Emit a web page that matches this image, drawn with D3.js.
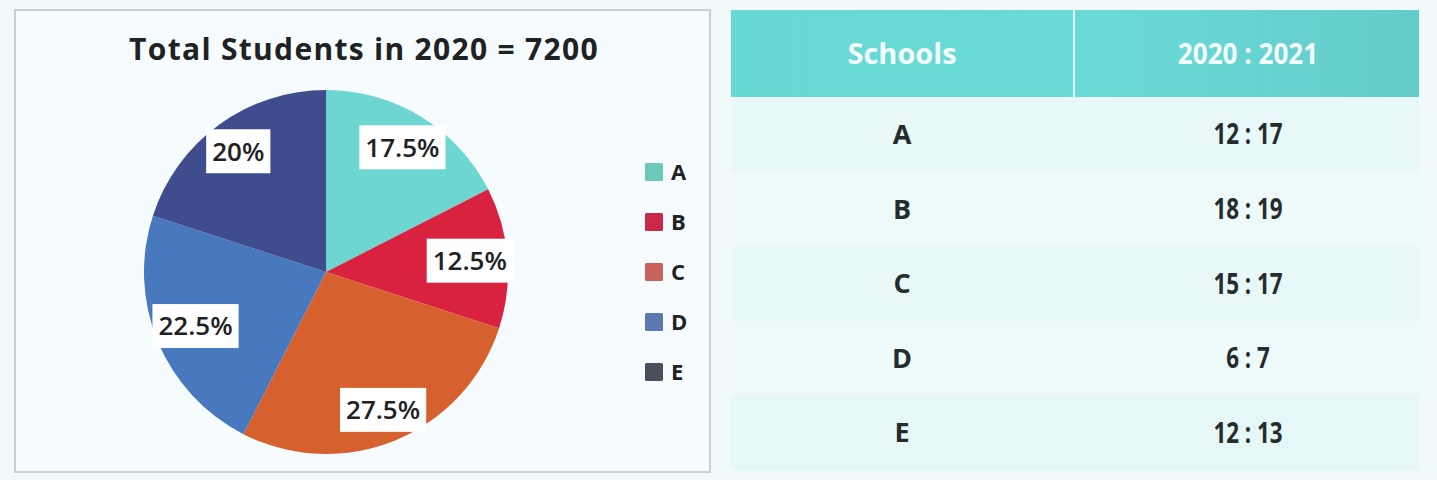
<!DOCTYPE html>
<html>
<head>
<meta charset="utf-8">
<script src="https://cdn.jsdelivr.net/npm/d3@7"></script>
<style>
  html, body { margin: 0; padding: 0; background: #f0fafa; }
  svg { display: block; }
  text { font-family: "Open Sans", "Noto Sans", sans-serif; }
</style>
</head>
<body>
<svg id="chart" width="1437" height="480"></svg>
<script>
// ---- data ----
const title = "Total Students in 2020 = 7200";
const schools = ["A", "B", "C", "D", "E"];
const shares2020 = [17.5, 12.5, 27.5, 22.5, 20];
const ratioHeader = ["Schools", "2020 : 2021"];
const ratios = ["12 : 17", "18 : 19", "15 : 17", "6 : 7", "12 : 13"];

// ---- styles ----
const sliceColors = ["#6dd6d0", "#d8223f", "#d6602e", "#4879be", "#3f4c8e"];
const legendColors = ["#6cc9b8", "#c9294b", "#c8625a", "#5b79ad", "#4a4f5c"];

const svg = d3.select("#chart");

// ---- left panel frame ----
svg.append("rect")
  .attr("x", 15).attr("y", 10).attr("width", 695).attr("height", 462)
  .attr("fill", "#f6fcfd").attr("stroke", "#c9d1d2").attr("stroke-width", 2);

svg.append("text")
  .attr("x", 364).attr("y", 60)
  .attr("text-anchor", "middle")
  .attr("font-size", 30).attr("font-weight", 700)
  .attr("letter-spacing", 1.3)
  .attr("fill", "#1e2224")
  .text(title);

// ---- pie ----
const cx = 326, cy = 272, R = 182;
const pie = d3.pie().sort(null).value(d => d.v).startAngle(0).endAngle(2 * Math.PI);
const arcs = pie(schools.map((s, i) => ({ s, v: shares2020[i], i })));
const arc = d3.arc().innerRadius(0).outerRadius(R);

const g = svg.append("g").attr("transform", `translate(${cx},${cy})`);
g.selectAll("path.slice").data(arcs).join("path")
  .attr("class", "slice")
  .attr("d", arc)
  .attr("fill", d => sliceColors[d.data.i]);

// labels with white boxes, best-fit inside circle
const lbl = g.selectAll("g.lbl").data(arcs).join("g").attr("class", "lbl");
lbl.append("rect").attr("fill", "#ffffff");
lbl.append("text")
  .attr("text-anchor", "middle")
  .attr("dy", "0.36em")
  .attr("font-size", 26).attr("font-weight", 600)
  .attr("fill", "#1e2224")
  .text(d => d.data.v + "%");

lbl.each(function(d) {
  const gg = d3.select(this);
  const bb = gg.select("text").node().getBBox();
  const w = bb.width + 12, h = 44;
  const mid = (d.startAngle + d.endAngle) / 2;
  const sx = Math.sin(mid), sy = -Math.cos(mid);
  let r = 0.82 * R;
  const fits = (r) => {
    const x = sx * r, y = sy * r;
    const corners = [[x - w/2, y - h/2], [x + w/2, y - h/2], [x - w/2, y + h/2], [x + w/2, y + h/2]];
    return corners.every(([a, b]) => Math.hypot(a, b) <= R + 8);
  };
  while (r > 0.5 * R && !fits(r)) r -= 1;
  gg.attr("transform", `translate(${sx * r},${sy * r})`);
  gg.select("rect").attr("x", -w/2).attr("y", -h/2).attr("width", w).attr("height", h);
});

// ---- legend ----
const ly = d3.scalePoint().domain(schools).range([172, 372]);
const leg = svg.append("g").selectAll("g").data(schools).join("g")
  .attr("transform", d => `translate(645,${ly(d)})`);
leg.append("rect")
  .attr("x", 0).attr("y", -9).attr("width", 18).attr("height", 18).attr("rx", 1.5)
  .attr("fill", (d, i) => legendColors[i]);
leg.append("text")
  .attr("x", 26).attr("dy", "0.36em")
  .attr("font-size", 22).attr("font-weight", 700)
  .attr("fill", "#1e2224")
  .text(d => d);

// ---- table ----
const tx0 = 731, tx1 = 1419, tDiv = 1074;
const headTop = 10, headBot = 97, bodyBot = 470;

const defs = svg.append("defs");
const grad = defs.append("linearGradient").attr("id", "hg").attr("x1", "0").attr("x2", "1");
grad.append("stop").attr("offset", "0").attr("stop-color", "#68d8d5");
grad.append("stop").attr("offset", "0.55").attr("stop-color", "#6adad7");
grad.append("stop").attr("offset", "1").attr("stop-color", "#63cbc8");

svg.append("rect")
  .attr("x", tx0).attr("y", headTop).attr("width", tx1 - tx0).attr("height", headBot - headTop)
  .attr("fill", "url(#hg)");
svg.append("line")
  .attr("x1", tDiv).attr("x2", tDiv).attr("y1", headTop).attr("y2", headBot)
  .attr("stroke", "#e6fbfa").attr("stroke-width", 2);

const colX = d3.scaleOrdinal().domain([0, 1]).range([902, 1248]);
const headScale = [1, 0.9];
svg.append("g").selectAll("text").data(ratioHeader).join("text")
  .attr("transform", (d, i) => `translate(${colX(i)},${(headTop + headBot) / 2}) scale(${headScale[i]},1)`)
  .attr("dy", "0.36em").attr("text-anchor", "middle")
  .attr("font-size", 29).attr("font-weight", 700)
  .attr("fill", "#f4ffff")
  .text(d => d);

const rowY = d3.scaleBand().domain(schools).range([headBot, bodyBot]);
const rowFills = ["#e8f8f8", "#eefafa", "#e8f8f8", "#eefafa", "#e6f7f7"];
svg.append("g").selectAll("rect").data(schools).join("rect")
  .attr("x", tx0).attr("y", d => rowY(d))
  .attr("width", tx1 - tx0).attr("height", rowY.bandwidth())
  .attr("fill", (d, i) => rowFills[i]);

const rows = svg.append("g").selectAll("g").data(schools).join("g")
  .attr("transform", d => `translate(0,${rowY(d) + rowY.bandwidth() / 2})`);
rows.append("text")
  .attr("x", colX(0)).attr("dy", "0.36em").attr("text-anchor", "middle")
  .attr("font-size", 27).attr("font-weight", 700).attr("fill", "#262b2d")
  .text(d => d);
rows.append("text")
  .attr("transform", `translate(${colX(1)},0) scale(0.8,1)`)
  .attr("dy", "0.36em").attr("text-anchor", "middle")
  .attr("font-size", 28).attr("font-weight", 700).attr("fill", "#262b2d")
  .text((d, i) => ratios[i]);
</script>
</body>
</html>
